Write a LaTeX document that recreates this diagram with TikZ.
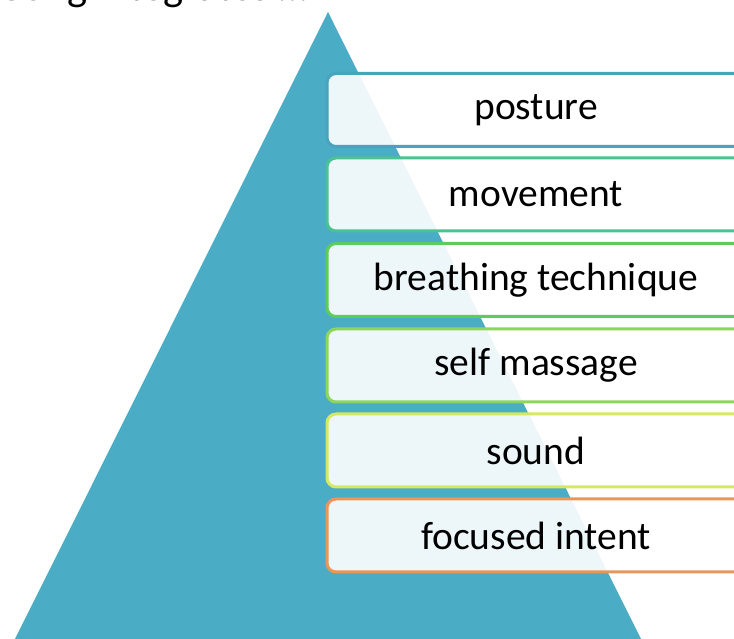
\documentclass[tikz,border=0pt]{standalone}
\usepackage{fontspec}
\setmainfont{Carlito}
\definecolor{tri}{HTML}{4BACC6}
\definecolor{cA}{HTML}{4AA3BD}
\definecolor{cB}{HTML}{4CC291}
\definecolor{cC}{HTML}{5FCB5C}
\definecolor{cD}{HTML}{8ED65B}
\definecolor{cE}{HTML}{D6E765}
\definecolor{cF}{HTML}{E8975A}
\tikzset{
  levelbox/.style={draw=#1, line width=3pt, rounded corners=9pt,
    fill=white, fill opacity=0.9, text opacity=1,
    minimum width=418pt, minimum height=73pt, inner sep=0pt,
    font=\fontsize{39.5}{45}\selectfont, text=black},
  titletext/.style={anchor=base west, inner sep=0pt,
    font=\fontsize{42.5}{48}\selectfont, text=black}
}
\begin{document}
\begin{tikzpicture}[x=1pt,y=1pt]
\useasboundingbox (0,0) rectangle (734,639);
\clip (0,0) rectangle (734,639);
\fill[white] (0,0) rectangle (734,639);
% title (cut off at the top edge)
\node[titletext] (title) at (-52,638) {Qi Gong integrates …};
% pyramid
\fill[tri] (328,627) -- (641,0) -- (15,0) -- cycle;
% levels
\node[levelbox=cA] (l1) at (536,529) {posture};
\node[levelbox=cB] (l2) at (536,444.5) {movement};
\node[levelbox=cC] (l3) at (536,359) {breathing technique};
\node[levelbox=cD] (l4) at (536,273.5) {self massage};
\node[levelbox=cE] (l5) at (536,188.5) {sound};
\node[levelbox=cF] (l6) at (536,103.5) {focused intent};
\end{tikzpicture}
\end{document}
